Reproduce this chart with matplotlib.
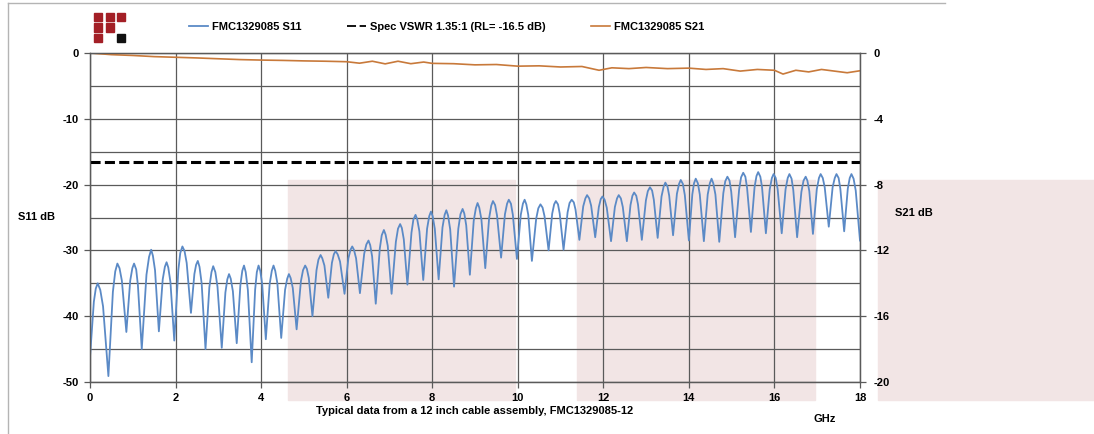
import matplotlib
matplotlib.use("Agg")
import matplotlib.pyplot as plt
from matplotlib.patches import Rectangle
from matplotlib.lines import Line2D

plt.rcParams['font.family'] = ['Liberation Sans', 'DejaVu Sans']
plt.rcParams['font.weight'] = 'bold'
plt.rcParams['font.size'] = 8
plt.rcParams['axes.unicode_minus'] = False

# ---- data ----
# S11 (left axis, dB): one row per ripple = shoulder, near-peak, peak, near-peak, shoulder, null
s11_ghz = [0.00,
    0.09, 0.135, 0.18, 0.24, 0.305, 0.43,
    0.535, 0.59, 0.64, 0.69, 0.745, 0.85,
    0.94, 0.99, 1.03, 1.08, 1.12, 1.21,
    1.32, 1.38, 1.43, 1.47, 1.52, 1.61,
    1.70, 1.75, 1.79, 1.83, 1.88, 1.97,
    2.065, 2.11, 2.16, 2.21, 2.26, 2.36,
    2.44, 2.48, 2.52, 2.56, 2.61, 2.70,
    2.79, 2.84, 2.88, 2.93, 2.98, 3.08,
    3.165, 3.21, 3.25, 3.29, 3.34, 3.43,
    3.515, 3.56, 3.60, 3.64, 3.69, 3.78,
    3.86, 3.90, 3.94, 3.98, 4.025, 4.11,
    4.20, 4.25, 4.29, 4.33, 4.38, 4.47,
    4.56, 4.61, 4.65, 4.69, 4.74, 4.83,
    4.93, 4.98, 5.03, 5.07, 5.115, 5.20,
    5.295, 5.34, 5.39, 5.43, 5.48, 5.57,
    5.655, 5.70, 5.74, 5.79, 5.845, 5.95,
    6.04, 6.09, 6.13, 6.17, 6.22, 6.31,
    6.41, 6.46, 6.51, 6.55, 6.595, 6.68,
    6.775, 6.82, 6.87, 6.91, 6.96, 7.05,
    7.15, 7.20, 7.25, 7.29, 7.335, 7.42,
    7.515, 7.56, 7.61, 7.65, 7.70, 7.79,
    7.88, 7.93, 7.97, 8.01, 8.06, 8.15,
    8.24, 8.29, 8.33, 8.37, 8.42, 8.51,
    8.61, 8.66, 8.71, 8.75, 8.795, 8.88,
    8.97, 9.02, 9.06, 9.10, 9.15, 9.24,
    9.33, 9.38, 9.42, 9.47, 9.515, 9.61,
    9.70, 9.75, 9.79, 9.84, 9.885, 9.98,
    10.07, 10.12, 10.16, 10.20, 10.245, 10.33,
    10.43, 10.48, 10.53, 10.58, 10.625, 10.72,
    10.805, 10.85, 10.89, 10.94, 10.98, 11.07,
    11.165, 11.21, 11.26, 11.31, 11.35, 11.44,
    11.53, 11.58, 11.62, 11.67, 11.715, 11.81,
    11.895, 11.94, 11.98, 12.03, 12.08, 12.18,
    12.27, 12.32, 12.36, 12.41, 12.455, 12.55,
    12.635, 12.68, 12.72, 12.77, 12.81, 12.90,
    12.995, 13.04, 13.09, 13.14, 13.18, 13.27,
    13.36, 13.41, 13.45, 13.50, 13.54, 13.63,
    13.72, 13.77, 13.81, 13.86, 13.905, 14.00,
    14.08, 14.12, 14.16, 14.21, 14.255, 14.35,
    14.44, 14.49, 14.53, 14.57, 14.62, 14.71,
    14.805, 14.85, 14.90, 14.95, 14.99, 15.08,
    15.175, 15.22, 15.27, 15.32, 15.36, 15.45,
    15.535, 15.58, 15.62, 15.67, 15.71, 15.80,
    15.89, 15.94, 15.98, 16.03, 16.075, 16.17,
    16.26, 16.31, 16.35, 16.40, 16.44, 16.53,
    16.63, 16.68, 16.73, 16.77, 16.815, 16.90,
    16.99, 17.04, 17.08, 17.13, 17.175, 17.27,
    17.36, 17.41, 17.45, 17.50, 17.54, 17.63,
    17.715, 17.76, 17.80, 17.85, 17.90, 18.00]
s11_db = [-46.2,
    -37.8, -35.8, -35.0, -36.0, -38.5, -49.1,
    -36.3, -33.2, -32.0, -32.7, -34.6, -42.4,
    -34.6, -32.7, -32.0, -32.9, -35.3, -45.0,
    -33.7, -31.0, -29.9, -30.8, -33.0, -42.3,
    -34.4, -32.5, -31.8, -32.6, -34.8, -43.7,
    -33.0, -30.4, -29.4, -30.1, -31.9, -39.5,
    -33.6, -32.2, -31.6, -32.5, -35.0, -45.0,
    -35.6, -33.3, -32.4, -33.3, -35.5, -44.8,
    -36.4, -34.4, -33.6, -34.3, -36.2, -44.1,
    -35.3, -33.1, -32.3, -33.3, -36.0, -47.0,
    -36.0, -33.3, -32.3, -33.1, -35.1, -43.5,
    -35.1, -33.1, -32.3, -33.1, -35.0, -43.3,
    -36.0, -34.3, -33.6, -34.2, -35.7, -42.0,
    -34.7, -33.0, -32.3, -32.8, -34.2, -40.0,
    -33.0, -31.4, -30.7, -31.2, -32.3, -37.2,
    -31.9, -30.6, -30.1, -30.6, -31.7, -36.6,
    -31.2, -29.9, -29.4, -29.9, -31.2, -36.5,
    -30.5, -29.1, -28.5, -29.2, -30.9, -38.1,
    -29.7, -27.7, -26.9, -27.6, -29.3, -36.6,
    -28.7, -26.7, -26.0, -26.6, -28.3, -35.2,
    -27.3, -25.3, -24.6, -25.3, -27.1, -34.5,
    -26.7, -24.8, -24.1, -24.8, -26.7, -34.4,
    -26.5, -24.6, -23.9, -24.7, -26.8, -35.5,
    -26.7, -24.5, -23.7, -24.4, -26.2, -33.7,
    -25.5, -23.6, -22.8, -23.5, -25.3, -32.7,
    -25.1, -23.2, -22.5, -23.1, -24.7, -31.1,
    -24.5, -22.9, -22.3, -22.9, -24.6, -31.3,
    -24.6, -22.9, -22.3, -23.0, -24.6, -31.6,
    -25.2, -23.6, -23.0, -23.5, -24.8, -30.0,
    -24.4, -23.0, -22.5, -23.0, -24.4, -29.9,
    -24.2, -22.8, -22.3, -22.7, -23.8, -28.4,
    -23.3, -22.1, -21.6, -22.1, -23.2, -28.0,
    -23.4, -22.2, -21.8, -22.3, -23.5, -28.6,
    -23.4, -22.1, -21.6, -22.1, -23.4, -28.6,
    -23.1, -21.7, -21.2, -21.7, -23.0, -28.4,
    -22.4, -21.0, -20.4, -20.9, -22.3, -28.1,
    -21.8, -20.3, -19.7, -20.3, -21.7, -27.7,
    -21.4, -19.9, -19.3, -19.9, -21.6, -28.5,
    -21.5, -19.8, -19.1, -19.8, -21.5, -28.6,
    -21.5, -19.8, -19.1, -19.8, -21.5, -28.7,
    -21.3, -19.5, -18.8, -19.4, -21.1, -28.0,
    -20.7, -18.9, -18.2, -18.8, -20.5, -27.2,
    -20.4, -18.7, -18.1, -18.8, -20.4, -27.4,
    -20.7, -19.0, -18.4, -19.0, -20.7, -27.4,
    -20.7, -19.0, -18.4, -19.1, -20.8, -28.0,
    -21.1, -19.4, -18.8, -19.4, -21.0, -27.5,
    -20.7, -19.0, -18.4, -19.0, -20.4, -26.4,
    -20.4, -19.0, -18.4, -19.0, -20.6, -27.1,
    -20.6, -19.0, -18.4, -19.1, -20.9, -28.5]

# S21 (right axis, dB)
s21_ghz = [0.0, 0.5, 1.0, 1.5, 2.0, 2.5, 3.0, 3.5, 4.0, 4.5, 5.0, 5.5, 6.0,
           6.3, 6.6, 6.9, 7.2, 7.5, 7.8, 8.0, 8.5, 9.0, 9.5, 10.0, 10.5, 11.0,
           11.5, 11.9, 12.2, 12.6, 13.0, 13.5, 14.0, 14.4, 14.8, 15.2, 15.6,
           16.0, 16.2, 16.5, 16.8, 17.1, 17.4, 17.7, 18.0]
s21_db = [0.0, -0.1, -0.15, -0.22, -0.26, -0.3, -0.35, -0.4, -0.43, -0.45, -0.48, -0.5, -0.53,
          -0.62, -0.5, -0.66, -0.5, -0.65, -0.55, -0.63, -0.65, -0.72, -0.7, -0.8, -0.78, -0.85,
          -0.82, -1.05, -0.9, -0.95, -0.88, -0.95, -0.92, -1.0, -0.95, -1.1, -1.0,
          -1.05, -1.28, -1.05, -1.15, -1.0, -1.1, -1.2, -1.08]

spec_rl = -16.5
x_ticks = [0, 2, 4, 6, 8, 10, 12, 14, 16, 18]
left_ticks = [0, -10, -20, -30, -40, -50]
right_ticks = [0, -4, -8, -12, -16, -20]

W, H = 1094, 434
GRID = '#5a5a5a'


def fx(x):
    return x / W


def fy(y):
    return 1 - y / H


fig = plt.figure(figsize=(W / 100, H / 100), dpi=100)

# pale pink blocks behind the plot
for x0, x1 in [(288, 515), (577, 815), (878, 1094)]:
    fig.patches.append(Rectangle((fx(x0), fy(400)), (x1 - x0) / W, 220 / H,
                                 transform=fig.transFigure, color='#f2e5e5', zorder=-1))

# frame lines of the picture
fig.lines.append(Line2D([fx(8), fx(945)], [fy(3), fy(3)], color='#b4b4b4', lw=1,
                        transform=fig.transFigure))
fig.lines.append(Line2D([fx(8), fx(8)], [fy(3), fy(434)], color='#b4b4b4', lw=1,
                        transform=fig.transFigure))

# logo
logo = [(0, 0, '#a31f26'), (1, 0, '#a31f26'), (2, 0, '#a31f26'),
        (0, 1, '#a31f26'), (1, 1, '#a31f26'),
        (0, 2, '#a31f26'), (2, 2, '#111111')]
for c, r, col in logo:
    x0 = 94 + c * 11.5
    y0 = 13 + r * 10.5
    fig.patches.append(Rectangle((fx(x0), fy(y0 + 8)), 8 / W, 8 / H,
                                 transform=fig.transFigure, color=col))

ax = fig.add_axes([fx(90), fy(382), 770 / W, 329 / H])
ax.set_facecolor('none')
ax2 = ax.twinx()

s11_line, = ax.plot(s11_ghz, s11_db, color='#5b8ac6', lw=1.3, zorder=3,
                    solid_joinstyle='round')
ax.axhline(spec_rl, color='black', lw=2.2, dashes=(3.3, 1.4), zorder=3)
s21_line, = ax2.plot(s21_ghz, s21_db, color='#c8793a', lw=1.2)

ax.set_xlim(0, 18)
ax.set_ylim(-50, 0)
ax2.set_ylim(-20, 0)

ax.set_xticks(x_ticks)
ax.set_yticks(left_ticks)
ax.set_yticks([-5, -15, -25, -35, -45], minor=True)
ax2.set_yticks(right_ticks)

ax.grid(True, which='both', color=GRID, lw=0.9)
ax.tick_params(axis='both', which='major', length=4, width=0.9, color=GRID, pad=4, labelsize=8)
ax.tick_params(axis='y', which='minor', length=0)
ax2.tick_params(axis='y', length=4, width=0.9, color=GRID, pad=6, labelsize=8)
for a in (ax, ax2):
    for s in a.spines.values():
        s.set_color(GRID)
        s.set_linewidth(0.9)

fig.text(fx(37), fy(217), 'S11 dB', ha='center', va='center', fontsize=8)
fig.text(fx(914), fy(213), 'S21 dB', ha='center', va='center', fontsize=8)
fig.text(fx(475), fy(411), 'Typical data from a 12 inch cable assembly, FMC1329085-12',
         ha='center', va='center', fontsize=8)
fig.text(fx(825), fy(419), 'GHz', ha='center', va='center', fontsize=8)

spec_handle = Line2D([], [], color='black', lw=1.3, dashes=(5, 2))
fig.legend([s11_line, spec_handle, s21_line],
           ['FMC1329085 S11', 'Spec VSWR 1.35:1 (RL= -16.5 dB)', 'FMC1329085 S21'],
           loc='center left', bbox_to_anchor=(fx(189), fy(27)), ncol=3, frameon=False,
           handlelength=1.7, handletextpad=0.35, columnspacing=4.1,
           borderpad=0, borderaxespad=0, prop={'size': 8, 'weight': 'bold'})

fig.savefig('out.png', dpi=100)
